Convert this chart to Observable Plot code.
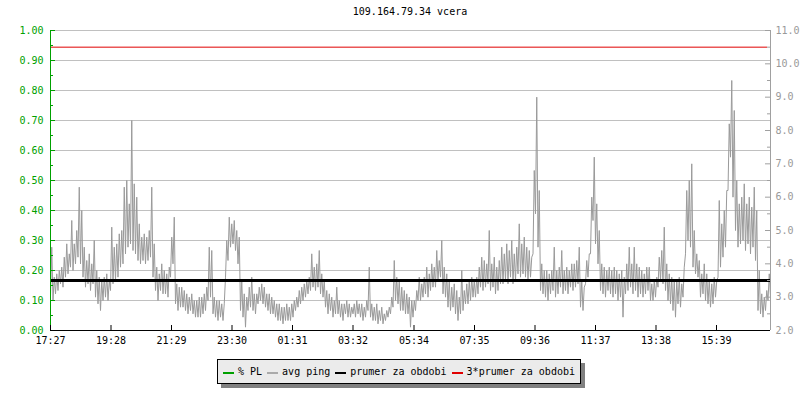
<!DOCTYPE html>
<html>
<head>
<meta charset="utf-8">
<script src="https://cdn.jsdelivr.net/npm/d3@7"></script>
<script src="https://cdn.jsdelivr.net/npm/@observablehq/plot@0.6"></script>
<style>
  html, body { margin: 0; padding: 0; background: #fff; }
  #wrap { position: relative; width: 800px; height: 400px; overflow: hidden; font-family: "DejaVu Sans Mono", monospace; }
  #title { position: absolute; top: 6px; left: 0; width: 820px; text-align: center; font-size: 10px; color: #000; }
  #legend { position: absolute; left: 217px; top: 359px; width: 362px; height: 23px; background: #ebebeb; border: 1px solid #000;
            box-shadow: 4px 4px 0 #808080; display: flex; align-items: center; font-size: 10px; color: #000; box-sizing: content-box; }
  #legend .sw { display: inline-block; width: 11px; height: 2px; margin: 0 4px 0 5px; position: relative; top: 1px; }
  #legend .it { display: flex; align-items: center; white-space: pre; }
</style>
</head>
<body>
<div id="wrap">
  <div id="title"></div>
  <div id="legend"></div>
</div>
<script>
// ---- data ----
const title = "109.164.79.34 vcera";
const startTime = "17:27";
const stepMinutes = 5;
const xTickLabels = ["17:27","19:28","21:29","23:30","01:31","03:32","05:34","07:35","09:36","11:37","13:38","15:39"];
const leftTicks = [0,0.1,0.2,0.3,0.4,0.5,0.6,0.7,0.8,0.9,1.0];
const rightTicksMs = [2,3,4,5,6,7,8,9,10,11];
const rightMin = 2, rightMax = 11;
// avg ping (ms): lowest and highest reading within each 5-minute slot
const avgPingLow = [
  3.0,2.9,3.1,3.2,3.4,3.3,3.6,3.7,3.9,3.8,4.0,4.2,
  4.0,3.6,3.3,3.4,3.2,3.4,3.0,2.8,2.6,2.9,3.0,2.9,
  3.2,3.4,3.5,3.6,3.9,4.0,4.3,4.5,4.6,4.4,4.3,4.1,
  4.0,4.1,4.0,4.1,4.2,3.6,3.2,2.9,3.2,3.1,3.1,3.0,
  3.6,4.0,2.8,2.6,2.7,2.7,2.6,2.5,2.6,2.5,2.4,2.4,
  2.4,2.5,2.6,2.9,3.0,2.5,2.4,2.3,2.4,2.3,3.6,4.1,
  4.5,4.6,4.4,4.0,2.6,2.4,2.1,2.6,2.7,2.6,2.5,2.8,
  2.9,2.8,2.7,2.6,2.5,2.5,2.4,2.3,2.3,2.2,2.3,2.3,
  2.3,2.4,2.6,2.7,2.8,2.9,3.0,3.1,3.2,3.3,3.2,3.3,
  3.1,3.0,2.7,2.5,2.6,2.4,2.5,2.5,2.4,2.3,2.5,2.4,
  2.4,2.5,2.4,2.5,2.4,2.3,2.4,2.6,2.4,2.3,2.3,2.2,
  2.3,2.2,2.3,2.4,2.5,2.7,2.9,2.8,2.6,2.6,2.5,2.5,
  2.1,2.4,2.6,2.9,2.9,3.0,3.1,3.0,3.2,3.3,3.3,3.5,
  3.6,3.1,3.0,2.7,2.6,2.7,2.5,2.3,2.5,2.6,2.8,2.8,
  2.9,3.0,3.0,3.1,3.3,3.2,3.3,3.4,3.2,3.3,3.1,3.2,
  3.4,3.4,3.5,3.4,3.6,3.4,3.5,3.7,3.6,3.7,3.6,3.5,
  3.6,4.3,5.5,4.5,3.2,3.1,3.0,2.9,3.1,3.2,3.0,3.1,
  3.3,3.1,3.2,3.1,3.3,3.2,3.3,3.4,2.7,2.6,3.4,3.6,
  4.3,5.3,4.6,4.0,3.2,3.1,3.0,3.2,3.1,3.0,3.1,2.9,
  3.0,2.4,3.1,3.2,3.3,3.1,3.2,3.0,3.1,3.0,3.1,3.2,
  2.9,2.9,3.0,3.3,3.5,3.4,3.2,2.9,2.8,2.6,2.4,2.8,
  2.7,3.0,4.3,4.7,4.5,3.9,3.7,3.6,3.0,3.1,2.9,2.8,
  2.7,2.8,3.0,3.6,3.9,4.2,4.5,6.2,7.2,6.0,5.0,4.5,
  4.6,4.7,4.4,4.6,4.3,4.5,4.1,2.6,2.5,2.4,2.6,2.9,
  3.0
];
const avgPingHigh = [
  4.5,3.6,3.7,3.8,3.9,4.2,4.6,4.3,5.3,4.6,5.0,6.3,
  5.6,4.5,4.1,4.3,4.0,4.7,3.8,3.6,3.5,3.6,3.7,3.5,
  5.1,4.5,4.6,4.9,5.0,6.3,6.5,5.8,8.3,6.4,6.0,5.2,
  4.8,4.9,4.8,5.0,6.3,4.6,3.9,3.7,4.0,3.8,3.7,3.9,
  4.8,5.4,3.4,3.3,3.3,3.2,3.1,3.0,3.1,2.9,2.9,3.0,
  3.0,3.1,3.3,4.5,4.4,3.0,2.9,2.9,2.8,2.8,4.7,5.4,
  5.2,5.3,5.0,4.8,3.5,3.1,3.0,3.3,3.6,3.1,3.1,3.3,
  3.4,3.3,3.1,3.1,3.0,2.9,2.8,2.8,2.7,2.7,2.8,2.7,
  2.8,2.9,3.0,3.2,3.3,3.4,3.5,3.6,4.3,3.9,4.0,4.4,
  3.7,3.5,3.2,3.1,3.0,2.9,3.3,2.9,2.8,2.8,2.9,2.8,
  2.7,2.8,2.9,2.8,2.8,2.7,2.9,3.9,2.8,2.7,2.8,2.6,
  2.7,2.5,2.6,2.7,3.0,4.1,3.6,3.5,3.3,3.2,3.1,3.0,
  2.9,2.9,3.2,3.6,3.4,3.6,3.9,3.7,4.0,3.9,4.4,4.1,
  4.7,3.9,3.7,3.5,3.3,3.4,3.2,3.0,3.8,3.2,3.4,3.5,
  3.6,3.5,3.6,3.9,4.2,4.1,4.0,5.0,4.0,4.2,3.9,4.1,
  4.5,4.3,4.6,4.4,4.7,4.3,4.5,5.2,4.6,4.8,4.5,4.4,
  4.2,6.8,9.0,6.2,4.0,3.8,3.8,3.7,3.8,4.5,3.8,3.9,
  4.4,3.8,3.9,3.8,4.0,4.0,4.1,4.5,3.5,3.3,4.1,4.3,
  6.0,7.2,5.8,5.0,4.0,3.9,3.8,3.9,3.8,3.9,3.8,3.7,
  3.8,3.6,4.0,4.5,4.0,4.5,4.0,3.9,3.8,3.7,3.9,3.9,
  3.4,3.5,3.6,4.2,4.4,5.1,4.0,3.7,3.6,3.5,3.5,3.6,
  3.4,3.9,6.2,6.5,7.0,5.0,4.3,4.1,3.7,4.0,3.7,3.5,
  3.4,3.6,3.5,5.9,5.2,5.6,6.2,8.2,9.5,8.6,6.5,5.8,
  6.0,6.4,5.8,6.0,5.7,6.3,5.6,3.8,3.1,3.0,3.2,3.7,
  3.9
];
const prumerMs = 3.5;        // prumer za obdobi
const prumer3Ms = 10.5;      // 3*prumer za obdobi
const legendItems = [
  {label: "% PL", color: "#00a000"},
  {label: "avg ping", color: "#aaaaaa"},
  {label: "prumer za obdobi", color: "#000000"},
  {label: "3*prumer za obdobi", color: "#e00000"}
];

// ---- helpers ----
const MIN = 60000;
const toMin = s => { const [h, m] = s.split(":").map(Number); return h * 60 + m; };
const startMin = toMin(startTime);
const t0 = Date.UTC(2020, 0, 1, 0, 0) + startMin * MIN;
const tEnd = t0 + 1440 * MIN;
const labelDate = s => { let m = toMin(s) - startMin; if (m < 0) m += 1440; return new Date(t0 + m * MIN); };
const xTicks = xTickLabels.map(labelDate);
const toLeft = ms => (ms - rightMin) / (rightMax - rightMin);
const pingData = [];
avgPingLow.forEach((lo, i) => {
  const t = t0 + i * stepMinutes * MIN;
  pingData.push({t: new Date(t), v: toLeft(lo)});
  pingData.push({t: new Date(t + stepMinutes * MIN / 2), v: toLeft(avgPingHigh[i])});
});
const leftMinor = d3.range(0.05, 1, 0.1);
const rightMinor = d3.range(2.5, 11, 1).map(toLeft);
const rightMajor = rightTicksMs.map(toLeft);
const green = "#00a000", grayAxis = "#a0a0a0", font = "DejaVu Sans Mono";
const d0 = new Date(t0), dEnd = new Date(tEnd);
const yPx = 1 / 300; // one pixel in y units (range 300px)

const chart = Plot.plot({
  width: 800, height: 400,
  marginLeft: 50, marginRight: 30, marginTop: 30, marginBottom: 70,
  style: {fontFamily: font, fontSize: "10px", background: "white", overflow: "visible"},
  x: {type: "utc", domain: [d0, dEnd]},
  y: {domain: [0, 1]},
  marks: [
    Plot.ruleY(leftTicks, {stroke: "#c0c0c0", strokeWidth: 1}),
    Plot.ruleY([toLeft(prumer3Ms)], {x1: d0, x2: new Date(tEnd - 6 * MIN), stroke: "#e00000", strokeWidth: 1}),
    Plot.line(pingData, {x: "t", y: "v", stroke: "#9a9a9a", strokeWidth: 1, clip: true}),
    Plot.ruleY([toLeft(prumerMs)], {stroke: "#000", strokeWidth: 3}),
    // left axis (green)
    Plot.ruleX([d0], {stroke: green, strokeWidth: 1}),
    Plot.ruleY(leftTicks, {x1: d0, x2: new Date(t0 + 10 * MIN), stroke: green}),
    Plot.ruleY(leftMinor, {x1: d0, x2: new Date(t0 + 6 * MIN), stroke: green}),
    Plot.axisY({anchor: "left", ticks: leftTicks, tickFormat: d => d.toFixed(2), tickSize: 0, tickPadding: 7,
                color: green, fontFamily: font, fontSize: 10, label: null}),
    // right axis (gray)
    Plot.ruleX([dEnd], {stroke: grayAxis, strokeWidth: 1}),
    Plot.ruleY(rightMajor, {x1: new Date(tEnd - 10 * MIN), x2: dEnd, stroke: grayAxis}),
    Plot.ruleY(rightMinor, {x1: new Date(tEnd - 6 * MIN), x2: dEnd, stroke: grayAxis}),
    Plot.axisY({anchor: "right", ticks: rightMajor, tickFormat: d => (rightMin + d * (rightMax - rightMin)).toFixed(1),
                tickSize: 0, tickPadding: 5, color: "#999", fontFamily: font, fontSize: 10, label: null}),
    // bottom axis
    Plot.ruleY([0], {stroke: "#000", strokeWidth: 1}),
    Plot.ruleX(xTicks, {y1: 0, y2: 5 * yPx, stroke: "#000"}),
    Plot.axisX({ticks: xTicks, tickFormat: d3.utcFormat("%H:%M"), tickSize: 0, tickPadding: 6,
                color: "#000", fontFamily: font, fontSize: 10, label: null})
  ]
});
const wrap = document.getElementById("wrap");
chart.style.position = "absolute";
chart.style.left = "0px";
chart.style.top = "0px";
wrap.insertBefore(chart, wrap.firstChild);
document.getElementById("title").textContent = title;
const lg = document.getElementById("legend");
legendItems.forEach(it => {
  const s = document.createElement("span"); s.className = "it";
  const sw = document.createElement("span"); sw.className = "sw"; sw.style.background = it.color;
  s.appendChild(sw); s.appendChild(document.createTextNode(it.label));
  lg.appendChild(s);
});
</script>
</body>
</html>
